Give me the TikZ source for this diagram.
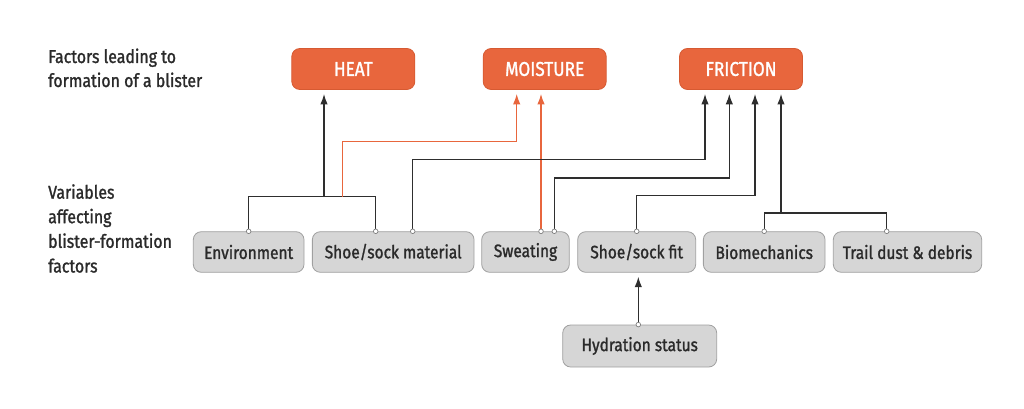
\documentclass[tikz,border=0pt]{standalone}
\usepackage{fontspec}
\setmainfont{Fira Sans}[FakeStretch=0.86,FakeBold=1.3]
\usetikzlibrary{arrows.meta,calc}
\definecolor{org}{HTML}{E8663D}
\definecolor{orgd}{HTML}{D65A32}
\definecolor{boxf}{HTML}{D6D6D6}
\definecolor{boxd}{HTML}{A0A0A0}
\definecolor{txt}{HTML}{2A2A2A}
\definecolor{lin}{HTML}{2E2E2E}
\begin{document}
\begin{tikzpicture}[x=1pt,y=-1pt,
 font=\fontsize{18}{21}\selectfont,
 topbox/.style={draw=orgd, fill=org, rounded corners=8pt, minimum height=41pt, minimum width=123pt, text=white, font=\fontsize{20}{23}\selectfont, inner sep=0pt, line width=0.8pt},
 botbox/.style={draw=boxd, fill=boxf, rounded corners=8pt, minimum height=40.6pt, text=txt, inner sep=0pt, line width=0.8pt},
 lbl/.style={anchor=base west, text=txt, inner sep=0pt, font=\fontsize{18.5}{21}\selectfont},
 lnk/.style={draw=lin, line width=1.4pt},
 arr/.style={lnk, -{Latex[length=10.5pt,width=7.5pt]}, shorten >=4pt},
 oarr/.style={draw=org, line width=1.3pt, -{Latex[length=10.5pt,width=7.5pt]}, shorten >=4pt},
 dotc/.style={circle, draw=gray, fill=white, inner sep=0pt, minimum size=4.6pt, line width=0.7pt}
]
\useasboundingbox (0,0) rectangle (1024,409);

% left labels
\node[lbl] (fa) at (48,63) {Factors leading to};
\node[lbl] (fb) at (48,87) {formation of a blister};
\node[lbl] (va) at (48,198.7) {Variables};
\node[lbl] (vb) at (48,223.2) {affecting};
\node[lbl] (vc) at (48,247.8) {blister-formation};
\node[lbl] (vd) at (48,272.5) {factors};

% top boxes
\node[topbox] (heat)  at (353.3,69) {HEAT};
\node[topbox] (moist) at (544.7,69) {MOISTURE};
\node[topbox] (fric)  at (741,69)   {FRICTION};

% bottom boxes
\node[botbox, minimum width=110.7pt] (env)   at (248.65,252) {Environment};
\node[botbox, minimum width=161.7pt] (mat)   at (393.2,252)  {Shoe/sock material};
\node[botbox, minimum width=87.6pt]  (sweat) at (525.5,252)  {Sweating};
\node[botbox, minimum width=118pt]   (fit)   at (636.7,252)  {Shoe/sock fit};
\node[botbox, minimum width=121.7pt] (bio)   at (764.2,252)  {Biomechanics};
\node[botbox, minimum width=148.4pt] (trail) at (907.5,252)  {Trail dust \& debris};
\node[botbox, minimum width=154pt, minimum height=42pt] (hyd) at (639.7,346) {Hydration status};

% HEAT group
\draw[lnk] (env.north) -- ++(0,-34.7) -| ([xshift=-17.5]mat.north);
\coordinate (jh) at (324,197);
\draw[arr] (jh) -- (jh |- heat.south);

% MOISTURE
\coordinate (jo) at (342.7,197);
\draw[oarr] (jo) -- ++(0,-55.3) -| ([xshift=-28]moist.south);
\draw[oarr] ([xshift=15.5]sweat.north) -- ([xshift=15.5]sweat.north |- moist.south);

% FRICTION
\draw[arr] ([xshift=19.5]mat.north) -- ++(0,-71.7) -| ([xshift=-36]fric.south);
\draw[arr] ([xshift=28.8]sweat.north) -- ++(0,-53.4) -| ([xshift=-11.7]fric.south);
\draw[arr] (fit.north) -- ++(0,-35.7) -| ([xshift=14]fric.south);
\draw[lnk] (bio.north) -- ++(0,-18.4) -| ([xshift=-20.8]trail.north);
\coordinate (jf) at (781,213.3);
\draw[arr] (jf) -- (jf |- fric.south);

% hydration
\draw[arr] ([xshift=-1.4]hyd.north) -- ([xshift=-1.4]hyd.north |- fit.south);

% dots
\node[dotc] (d1) at (env.north) {};
\node[dotc] (d2) at ([xshift=-17.5]mat.north) {};
\node[dotc] (d3) at ([xshift=19.5]mat.north) {};
\node[dotc] (d4) at ([xshift=15.5]sweat.north) {};
\node[dotc] (d5) at ([xshift=28.8]sweat.north) {};
\node[dotc] (d6) at (fit.north) {};
\node[dotc] (d7) at (bio.north) {};
\node[dotc] (d8) at ([xshift=-20.8]trail.north) {};
\node[dotc] (d9) at ([xshift=-1.4]hyd.north) {};
\end{tikzpicture}
\end{document}
